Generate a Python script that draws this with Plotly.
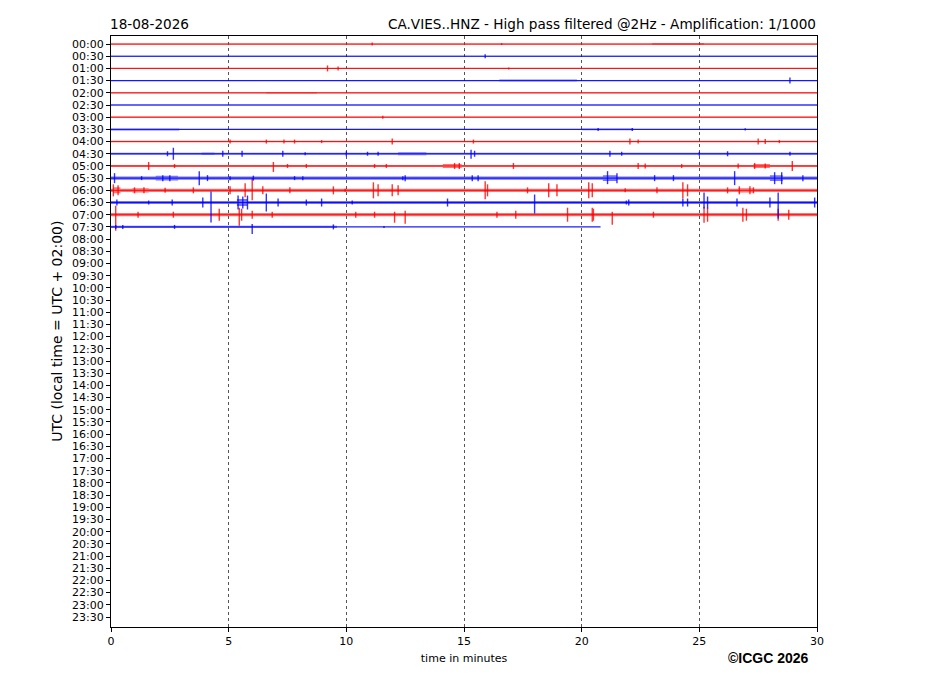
import plotly.graph_objects as go

# Helicorder CA.VIES..HNZ, 18-08-2026, 30-minute rows
DATE = "18-08-2026"
STATION = "CA.VIES..HNZ - High pass filtered @2Hz - Amplification: 1/1000"
ROW_LABELS = ["%02d:%02d" % (h, m) for h in range(24) for m in (0, 30)]
ROW_COLORS = ["red", "blue"]

# minutes recorded in each row (rows after 07:30 are empty)
ROW_END = [30, 30, 30, 30, 30, 30, 30, 30,
           30, 30, 30, 30, 30, 30, 30, 20.8]

# background noise half-amplitude per row (same units as the events)
NOISE = [0.6, 0.6, 0.6, 0.6, 0.6, 0.6, 0.6, 0.7,
         0.8, 1.0, 1.0, 1.6, 1.6, 1.6, 1.6, 0.4]

# events read from the record: (minute, amplitude up, amplitude down)
EV_0000 = [(11.1, 1.5, 1.5), (16.6, 1, 1)]
EV_0030 = [(15.9, 2, 2)]
EV_0100 = [(9.2, 3, 3), (9.65, 2, 2), (16.9, 1, 1)]
EV_0130 = [(28.85, 3, 3)]
EV_0200 = []
EV_0230 = []
EV_0300 = [(11.55, 1.5, 1.5)]
EV_0330 = [(20.7, 1.5, 1.5), (22.15, 1.5, 1.5), (26.95, 1.2, 1.2)]
EV_0400 = [(5.06, 2, 2), (6.6, 2, 2), (7.35, 2, 2), (7.8, 2, 2), (8.95, 1.5, 1.5),
           (11.95, 3, 3), (15.4, 2, 2), (22.05, 3, 3), (22.4, 2, 2),
           (27.5, 3, 3), (27.8, 2.5, 2.5), (28.4, 1.5, 1.5)]
EV_0430 = [(2.4, 2.5, 2.5), (2.65, 6, 6), (4.75, 3, 3), (5.57, 3, 3), (7.3, 3, 3),
           (8.25, 1.5, 1.5), (10.0, 2.5, 2.5), (10.9, 2, 2), (11.35, 2, 2),
           (15.3, 4, 5), (15.45, 3, 3), (21.2, 3, 3), (21.7, 2, 2), (25.0, 2, 2),
           (26.2, 2.5, 2.5), (28.85, 2, 2)]
EV_0500 = [(1.6, 4, 4), (2.7, 2, 2), (6.9, 4, 6), (7.5, 2, 2), (8.3, 2, 2),
           (11.2, 2, 2), (11.7, 2, 2), (14.6, 3, 3), (14.8, 3, 3), (17.1, 3, 3),
           (22.4, 3, 3), (22.7, 2.5, 2.5), (24.25, 2, 2), (26.65, 2.5, 2.5),
           (27.35, 3, 3), (27.8, 2.5, 2.5), (28.95, 5, 5)]
EV_0530 = [(0.15, 5, 5), (1.3, 2, 2), (2.2, 3, 3), (2.5, 3, 3), (3.75, 7, 7),
           (4.1, 3, 3), (5.06, 2, 2), (6.05, 2.5, 2.5), (7.8, 2, 2), (8.15, 2, 2),
           (12.4, 2, 2), (12.5, 3, 3), (15.35, 3, 3), (15.6, 3, 3),
           (21.1, 7, 6), (21.5, 5, 5), (23.1, 3, 3), (23.9, 3, 3),
           (26.5, 7, 7), (28.2, 6, 6), (28.5, 6, 6), (29.4, 3, 3)]
EV_0600 = [(0.1, 6, 6), (0.3, 5, 5), (1.0, 3, 3), (1.4, 3, 3), (2.3, 2.5, 2.5),
           (3.5, 3, 3), (5.06, 4, 4), (5.7, 7, 7), (6.0, 12, 10), (6.45, 4, 4),
           (7.6, 3, 3), (9.45, 4, 4), (9.95, 1.5, 1.5), (11.15, 8, 8),
           (11.35, 6, 6), (11.95, 6, 6), (12.2, 5, 5), (15.9, 9, 9), (16.0, 6, 6),
           (17.7, 3, 3), (18.6, 7, 7), (18.95, 6, 6), (20.3, 8, 8), (20.45, 7, 7),
           (21.85, 2, 2), (23.2, 3, 3), (24.3, 8, 8), (24.5, 6, 6), (26.2, 3, 3),
           (26.7, 4, 4), (27.15, 4, 4), (27.3, 3, 3)]
EV_0630 = [(0.25, 3, 3), (1.6, 2, 2), (2.6, 3, 3), (3.9, 5, 5), (4.25, 11, 20),
           (5.4, 7, 7), (5.6, 6, 6), (5.8, 7, 7), (6.6, 9, 9), (7.1, 4, 4),
           (8.3, 3, 3), (8.95, 4, 4), (10.25, 2, 2), (14.3, 4, 4), (18.0, 8, 11),
           (21.9, 2, 2), (22.0, 3, 3), (24.3, 4, 4), (24.5, 4, 4), (25.2, 10, 6),
           (25.35, 6, 6), (26.6, 4, 4), (28.0, 5, 5), (28.35, 10, 16), (29.9, 5, 5)]
EV_0700 = [(0.2, 9, 16), (1.15, 3, 3), (2.65, 3, 3), (4.6, 6, 6), (5.45, 7, 11),
           (5.55, 6, 6), (6.0, 4, 4), (6.85, 3, 3), (10.4, 3, 3), (11.2, 3, 3),
           (12.05, 3, 8), (12.5, 4, 9), (16.4, 3, 3), (17.2, 4, 4), (19.4, 7, 7),
           (20.45, 7, 7), (20.5, 6, 6), (21.3, 3, 10), (23.05, 3, 3),
           (25.2, 8, 8), (25.35, 7, 7), (26.85, 7, 7), (27.0, 6, 6),
           (28.35, 6, 6), (28.8, 5, 5)]
EV_0730 = [(0.2, 2, 2), (0.5, 2, 2), (2.7, 2, 2), (6.0, 3, 7), (9.45, 2.5, 2.5),
           (11.6, 1, 1)]

# stretches of raised noise: (start minute, end minute, amplitude)
BUSY_0000 = [(23.0, 25.2, 1.0)]
BUSY_0130 = [(16.5, 19.8, 1.0)]
BUSY_0200 = [(6.6, 8.75, 0.9)]
BUSY_0330 = [(0.0, 2.9, 1.0), (20.0, 22.2, 0.9)]
BUSY_0430 = [(3.85, 4.4, 1.3), (12.2, 13.4, 1.4)]
BUSY_0500 = [(14.1, 14.9, 2.0), (27.3, 28.0, 2.0)]
BUSY_0530 = [(1.9, 2.85, 2.4), (20.9, 21.5, 2.8), (28.0, 28.55, 2.8)]
BUSY_0600 = [(0.1, 0.4, 3.0), (0.9, 1.6, 2.2), (26.65, 27.3, 2.2)]
BUSY_0630 = [(5.35, 5.8, 3.5)]
BUSY_0730 = [(0.0, 9.6, 1.2)]

EVENTS = [EV_0000, EV_0030, EV_0100, EV_0130, EV_0200, EV_0230, EV_0300, EV_0330,
          EV_0400, EV_0430, EV_0500, EV_0530, EV_0600, EV_0630, EV_0700, EV_0730]
BUSY = {0: BUSY_0000, 3: BUSY_0130, 4: BUSY_0200, 7: BUSY_0330, 9: BUSY_0430,
        10: BUSY_0500, 11: BUSY_0530, 12: BUSY_0600, 13: BUSY_0630, 15: BUSY_0730}

GAIN = 1 / 12.2  # amplitude units -> row spacing

fig = go.Figure()

for ci, color in enumerate(ROW_COLORS):
    lx, ly, bx, by, sx, sy = [], [], [], [], [], []
    for row, end in enumerate(ROW_END):
        if row % 2 != ci:
            continue
        # baseline with noise band
        lx += [0, end, None]
        ly += [row, row, None]
        bands = [(0, end, NOISE[row])] + BUSY.get(row, [])
        for t0, t1, a in bands:
            a = a * GAIN
            bx += [t0, t1, t1, t0, t0, None]
            by += [row - a, row - a, row + a, row + a, row - a, None]
        for t, up, dn in EVENTS[row]:
            sx += [t, t, None]
            sy += [row - up * GAIN, row + dn * GAIN, None]

    fig.add_trace(go.Scatter(x=bx, y=by, mode="lines", fill="toself",
                             fillcolor=color, opacity=0.55,
                             line=dict(width=0, color=color),
                             hoverinfo="skip", showlegend=False))
    fig.add_trace(go.Scatter(x=lx, y=ly, mode="lines",
                             line=dict(width=1, color=color), opacity=0.9,
                             hoverinfo="skip", showlegend=False))
    fig.add_trace(go.Scatter(x=sx, y=sy, mode="lines",
                             line=dict(width=1.4, color=color), opacity=0.8,
                             hoverinfo="skip", showlegend=False))

fig.update_layout(
    width=919, height=688,
    margin=dict(l=103, r=110, t=28, b=69),
    paper_bgcolor="white", plot_bgcolor="white",
    font=dict(family="DejaVu Sans", size=11, color="black"),
    xaxis=dict(
        range=[0, 30], tickvals=[0, 5, 10, 15, 20, 25, 30],
        showgrid=True, gridcolor="#555555", griddash="dot", gridwidth=0.6,
        showline=True, linecolor="black", linewidth=1.2, mirror=True,
        ticks="outside", ticklen=4, tickcolor="black", zeroline=False,
        title=dict(text="time in minutes", font=dict(size=11), standoff=7),
    ),
    yaxis=dict(
        range=[47.82, -0.66], tickvals=list(range(len(ROW_LABELS))),
        ticktext=ROW_LABELS, showgrid=False, zeroline=False,
        showline=True, linecolor="black", linewidth=1.2, mirror=True,
        ticks="outside", ticklen=4, tickcolor="black",
    ),
    annotations=[
        dict(text=DATE, x=0, y=1.0, xref="paper", yref="paper",
             xanchor="left", yanchor="bottom", yshift=2, xshift=-3,
             showarrow=False, font=dict(size=13.6)),
        dict(text=STATION, x=1, y=1.0, xref="paper", yref="paper",
             xanchor="right", yanchor="bottom", yshift=2, xshift=1,
             showarrow=False, font=dict(size=13.6)),
        dict(text="UTC (local time = UTC + 02:00)", x=-0.0775, y=0.5,
             xref="paper", yref="paper", textangle=-90,
             xanchor="center", yanchor="middle",
             showarrow=False, font=dict(size=14)),
        dict(text="<b>©ICGC 2026</b>", x=0.992, y=-0.053,
             xref="paper", yref="paper", xanchor="right", yanchor="middle",
             showarrow=False, font=dict(size=14, family="Liberation Sans")),
    ],
)

fig.write_html("out.html")
